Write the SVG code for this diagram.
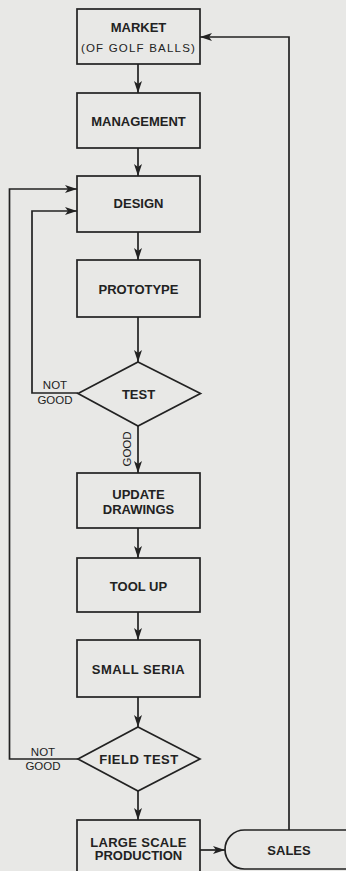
<svg xmlns="http://www.w3.org/2000/svg" width="346" height="871" viewBox="0 0 346 871">
<defs>
<marker id="ah" markerUnits="userSpaceOnUse" markerWidth="13" markerHeight="9" refX="12" refY="4.5" orient="auto">
<path d="M0,0.5 L12,4.5 L0,8.5 L3,4.5 Z" fill="#222"/>
</marker>
</defs>
<style>
.bg{fill:#e8e8e6}
.node{fill:#e8e8e6;stroke:#222;stroke-width:1.7}
.c{fill:none;stroke:#222;stroke-width:1.7}
.t{font-family:"Liberation Sans",Arial,sans-serif;font-weight:bold;font-size:13px;fill:#222;text-anchor:middle}
.s{font-family:"Liberation Sans",Arial,sans-serif;font-size:11.5px;fill:#222;text-anchor:middle}
</style>
<rect class="bg" x="0" y="0" width="346" height="871"/>
<g id="connectors">
<path class="c" d="M138,64 V93" marker-end="url(#ah)"/>
<path class="c" d="M138,148 V176" marker-end="url(#ah)"/>
<path class="c" d="M138,232 V260" marker-end="url(#ah)"/>
<path class="c" d="M138,317 V362" marker-end="url(#ah)"/>
<path class="c" d="M138,426 V473" marker-end="url(#ah)"/>
<path class="c" d="M138,528 V558" marker-end="url(#ah)"/>
<path class="c" d="M138,612 V640" marker-end="url(#ah)"/>
<path class="c" d="M138,697 V727" marker-end="url(#ah)"/>
<path class="c" d="M138,791 V820" marker-end="url(#ah)"/>
<path class="c" d="M200,850 H225" marker-end="url(#ah)"/>
<path class="c" d="M289,830 V37 H200" marker-end="url(#ah)"/>
<path class="c" d="M78,393 H32 V211 H77" marker-end="url(#ah)"/>
<path class="c" d="M78,759 H9.5 V189 H77" marker-end="url(#ah)"/>
<text class="s" x="55" y="389">NOT</text>
<text class="s" x="55" y="404">GOOD</text>
<text class="s" x="43" y="756">NOT</text>
<text class="s" x="43" y="770">GOOD</text>
<text class="s" transform="translate(130.5,449) rotate(-90)">GOOD</text>
</g>
<g id="market">
<rect class="node" x="77" y="9" width="123" height="55"/>
<text class="t" x="138.5" y="32">MARKET</text>
<text class="s" x="138.5" y="51.5" letter-spacing="1.2">(OF GOLF BALLS)</text>
</g>
<g id="management">
<rect class="node" x="77" y="93" width="123" height="55"/>
<text class="t" x="138.5" y="126">MANAGEMENT</text>
</g>
<g id="design">
<rect class="node" x="77" y="176" width="123" height="56"/>
<text class="t" x="138.5" y="208">DESIGN</text>
</g>
<g id="prototype">
<rect class="node" x="77" y="260" width="123" height="57"/>
<text class="t" x="138.5" y="294">PROTOTYPE</text>
</g>
<g id="test">
<polygon class="node" points="138,362 200.5,393.5 138,426 78,393.5"/>
<text class="t" x="138.5" y="398.5">TEST</text>
</g>
<g id="update-drawings">
<rect class="node" x="77" y="473" width="123" height="55"/>
<text class="t" x="138.5" y="499">UPDATE</text>
<text class="t" x="138.5" y="514">DRAWINGS</text>
</g>
<g id="tool-up">
<rect class="node" x="77" y="558" width="123" height="54"/>
<text class="t" x="138.5" y="590.5">TOOL UP</text>
</g>
<g id="small-seria">
<rect class="node" x="77" y="640" width="123" height="57"/>
<text class="t" x="138.5" y="674" letter-spacing="0.5">SMALL SERIA</text>
</g>
<g id="field-test">
<polygon class="node" points="138,727 200,759 138,791 78,759"/>
<text class="t" x="139" y="764" letter-spacing="0.5">FIELD TEST</text>
</g>
<g id="large-scale-production">
<rect class="node" x="77" y="820" width="123" height="60"/>
<text class="t" x="138.5" y="846.5" letter-spacing="0.3">LARGE SCALE</text>
<text class="t" x="138.5" y="860">PRODUCTION</text>
</g>
<g id="sales">
<rect class="node" x="225" y="830" width="140" height="39" rx="19.5" ry="19.5"/>
<text class="t" x="289" y="854.5">SALES</text>
</g>
</svg>
